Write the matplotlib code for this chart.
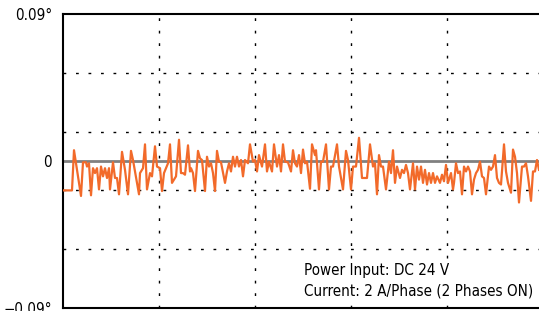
import matplotlib.pyplot as plt
from matplotlib import font_manager
from matplotlib.font_manager import FontProperties

# time axis in arbitrary units, one grid division = 96
t = [
    0, 9, 11, 18, 20, 23, 24, 26, 28, 30, 32, 34, 36, 38, 40, 42, 44, 46, 47, 50,
    52, 54, 56, 59, 62, 65, 68, 70, 76, 77, 80, 82, 84, 87, 89, 92, 94, 97,
    99, 101, 103, 105, 107, 109, 111, 113, 116, 118, 120, 122, 125, 127, 128, 130,
    132, 135, 137, 139, 142, 144, 146, 148, 150, 152, 154, 156, 158, 162, 164, 166,
    168, 170, 172, 174, 176, 178, 180, 182, 185, 187, 190, 192, 194,
    196, 199, 202, 204, 206, 209, 211, 214, 216, 218, 220, 222, 225, 228, 230, 232,
    234, 236, 238, 240, 242, 244, 247, 249, 252, 253, 256, 258, 260, 263, 266, 268,
    270, 274, 276, 280, 283, 285, 288, 290,
    293, 296, 299, 302, 304, 307, 310, 312, 314, 316, 318, 320, 323, 326, 328, 330,
    332, 334, 337, 339, 341, 343, 345, 347, 350, 352, 354, 356, 358, 360, 362, 364,
    366, 368, 370, 372, 374, 377, 379, 381, 383, 385, 388, 390,
    391, 393, 395, 397, 399, 401, 403, 405, 407, 409, 411, 413, 415, 417, 419, 421,
    423, 426, 428, 430, 432, 434, 436, 438, 441, 443, 445, 448, 450, 452, 454, 456,
    459, 461, 463, 465, 468, 470, 472, 474, 476,
]

# angle error in millidegrees
err_mdeg = [
    -18.0, -18.0, 6.6, -21.4, -0.8, -0.8, -3.4, -1.4, -21.0, -4.4, -7.4, -4.4, -17.4, -3.4, -9.4, -4.4, -10.4, -4.4, -17.4, -0.8,
    -10.4, -10.4, -20.4, 5.6, -5.4, -20.4, 6.2, 0.6, -20.4, -7.4, -4.4, 10.2, -17.4, -7.4, -9.4, 9.0, -3.4, -4.4,
    -18.4, -7.4, -4.4, -1.4, 10.2, -13.4, -11.4, -9.4, 13.0, -7.4, -7.4, -8.4, 9.6, -6.4, -4.4, -7.4,
    -18.4, 6.2, 1.6, 0.6, -18.4, 2.6, -3.4, -1.4, -7.4, -18.4, 6.2, -0.4, -0.8, -13.4, -6.4, -1.4,
    -6.4, 2.6, -3.4, 2.6, -3.4, 0.6, -9.4, 0.6, -1.4, 10.2, -0.4, 0.6, -6.4,
    3.6, -3.4, 10.2, -6.4, -0.4, -6.4, 10.2, -3.4, 3.6, -6.4, 10.2, -0.4, -0.8, -6.4, 6.6, -1.4,
    -3.4, 3.6, -7.4, 7.0, -1.4, -0.4, -17.0, 10.2, 3.6, 6.6, -17.4, -0.4, -0.4, 10.2, -17.4, -3.4,
    -3.4, 10.2, -3.4, -17.4, 6.2, 0.6, -17.4, -3.4,
    -3.4, 14.2, -10.4, -10.4, -10.4, 10.2, -3.4, -1.4, -20.4, 3.6, -3.4, -3.4, -17.4, -0.4, -7.4, 6.6,
    -13.4, -3.4, -10.4, -5.4, -7.4, -2.4, -7.4, -17.4, -1.4, -17.4, -3.4, -11.4, -3.4, -13.4, -5.4, -14.4,
    -7.4, -13.4, -7.4, -13.4, -9.4, -13.4, -8.4, -12.4, -2.4, -13.4, -7.4, -17.4,
    -13.4, -1.4, -7.4, -6.4, -20.4, -3.4, -6.4, -3.4, -6.4, -20.4, -11.4, -7.4, -5.4, -0.4, -9.4, -10.4,
    -20.4, -3.4, -5.4, -3.4, 3.6, -10.4, -13.4, -14.4, 10.2, -6.4, -13.4, -19.4, 7.0, 2.6, -7.4, -25.4,
    -3.4, -3.4, -1.4, -9.4, -24.4, -6.4, -6.4, 0.6, -5.4,
]

err = [v / 1000 for v in err_mdeg]

ytick_pos = [-0.09, 0, 0.09]
ytick_lab = ['\u22120.09\u00b0', '0', '0.09\u00b0']
note = 'Power Input: DC 24 V\nCurrent: 2 A/Phase (2 Phases ON)'


def narrow_font():
    # look for a condensed sans face, like the one in the original
    prefer = ['liberationsansnarrow-regular', 'dejavusanscondensed.ttf',
              'notosans-condensed', 'roboto_condensed', 'robotocondensed-regular']
    found = {}
    for f in font_manager.fontManager.ttflist:
        low = f.fname.lower().replace(' ', '')
        if ('narrow' in low or 'condensed' in low) and not any(
                k in low for k in ['bold', 'italic', 'oblique', 'light', 'black', 'medium', 'thin', 'semi', 'extra']):
            found[low.split('/')[-1]] = f.fname
    for p in prefer:
        for k, v in found.items():
            if k.startswith(p) or k == p:
                return FontProperties(fname=v)
    if found:
        return FontProperties(fname=sorted(found.values())[0])
    return FontProperties(family='Liberation Sans')


fp = narrow_font()

fig = plt.figure(figsize=(5.39, 3.11), dpi=100)
ax = fig.add_axes([63 / 539, 3 / 311, 480 / 539, 294 / 311])

ax.set_xlim(0, 480)
ax.set_ylim(-0.09, 0.09)

for x in [96, 192, 288, 384]:
    ax.axvline(x, color='black', lw=1, ls=(0, (2, 7)), zorder=1)
for y in [-0.054, -0.018, 0.018, 0.054]:
    ax.axhline(y, color='black', lw=1, ls=(0, (2, 7)), zorder=1)
ax.axhline(0, color='#808080', lw=2, zorder=2)

ax.plot(t, err, color='#f26a2a', lw=1.6, zorder=3)

ax.set_xticks([])
ax.set_yticks(ytick_pos)
ax.tick_params(axis='y', length=0, pad=8)

for s in ['left', 'top', 'bottom']:
    ax.spines[s].set_linewidth(1.5)
ax.spines['right'].set_visible(False)

txt = ax.text(0.502, 0.033, note, transform=ax.transAxes, fontproperties=fp,
              fontsize=12, linespacing=1.4, va='bottom', ha='left', zorder=4,
              bbox=dict(facecolor='white', edgecolor='none', pad=0.5))

# fit the note to the width it has in the original (about 228 px)
fig.canvas.draw()
w = txt.get_window_extent().width
size = 12 * 228 / w
txt.set_fontsize(size)

ax.set_yticklabels(ytick_lab, fontproperties=fp, fontsize=size)

fig.savefig('out.png', dpi=100)
